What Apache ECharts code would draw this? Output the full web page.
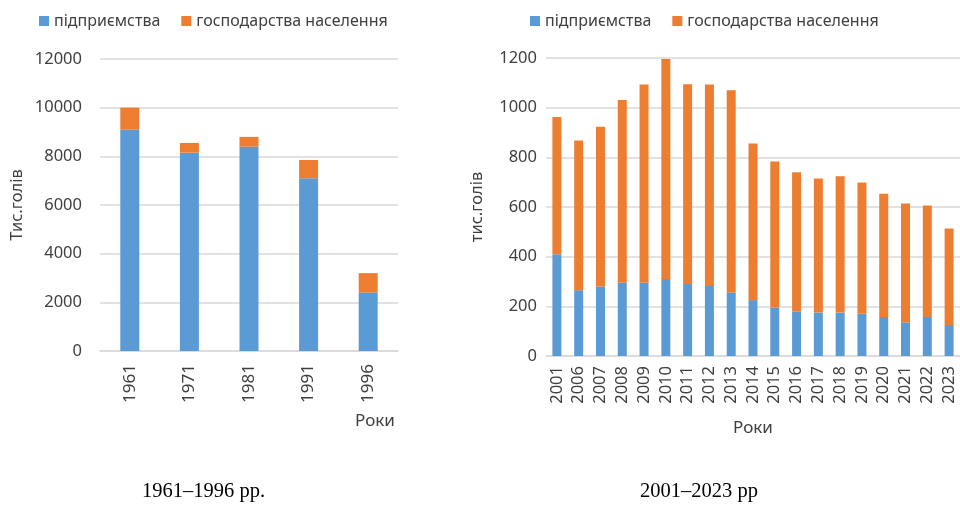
<!DOCTYPE html>
<html>
<head>
<meta charset="utf-8">
<script src="https://cdn.jsdelivr.net/npm/echarts@6/dist/echarts.min.js"></script>
<style>
html,body{margin:0;padding:0;background:#fff;}
#chart{width:960px;height:505px;}
</style>
</head>
<body>
<div id="chart"></div>
<script>
// ---- data ----
var yearsA = ['1961', '1971', '1981', '1991', '1996'];
var enterprisesA = [9100, 8150, 8400, 7100, 2400];
var householdsA = [900, 400, 400, 750, 800];

var yearsB = ['2001','2006','2007','2008','2009','2010','2011','2012','2013','2014','2015','2016','2017','2018','2019','2020','2021','2022','2023'];
var enterprisesB = [410, 265, 280, 295, 295, 310, 290, 282, 256, 225, 195, 180, 175, 175, 170, 157, 135, 157, 125];
var householdsB = [552, 603, 643, 736, 798, 886, 804, 811, 814, 631, 588, 560, 540, 549, 529, 496, 479, 449, 388];

var seriesNames = ['підприємства', 'господарства населення'];
var captions = ['1961–1996 рр.', '2001–2023 рр'];

// ---- style ----
var FONT = 'Noto Sans';
var TXT = '#404040';
var GRIDC = '#D9D9D9';
var BLUE = '#5B9BD5';
var ORANGE = '#ED7D31';

var chart = echarts.init(document.getElementById('chart'), null, {renderer: 'canvas'});

function legend(left) {
  return {
    left: left, top: 8,
    itemWidth: 10, itemHeight: 10, itemGap: 21,
    icon: 'rect',
    textStyle: {fontFamily: FONT, fontSize: 16, color: TXT},
    data: seriesNames
  };
}
function plain(v) { return String(v); }

var option = {
  animation: false,
  backgroundColor: '#fff',
  color: [BLUE, ORANGE],
  legend: [legend(34), legend(525)],
  grid: [
    {left: 100, top: 59, width: 298, height: 292},
    {left: 546, top: 58, width: 416, height: 298}
  ],
  xAxis: [
    {
      type: 'category', gridIndex: 0, data: yearsA,
      axisTick: {show: false},
      axisLine: {lineStyle: {color: GRIDC, width: 1.5}},
      axisLabel: {rotate: 90, margin: 13, fontFamily: FONT, fontSize: 17, color: TXT},
      name: 'Роки', nameLocation: 'middle', nameGap: 62,
      nameTextStyle: {fontFamily: FONT, fontSize: 17, color: TXT, padding: [0, 0, 0, 252]}
    },
    {
      type: 'category', gridIndex: 1, data: yearsB,
      axisTick: {show: false},
      axisLine: {lineStyle: {color: GRIDC, width: 1.5}},
      axisLabel: {rotate: 90, margin: 10, fontFamily: FONT, fontSize: 16.5, color: TXT, interval: 0},
      name: 'Роки', nameLocation: 'middle', nameGap: 64,
      nameTextStyle: {fontFamily: FONT, fontSize: 17, color: TXT}
    }
  ],
  yAxis: [
    {
      type: 'value', gridIndex: 0, min: 0, max: 12000, interval: 2000,
      axisLine: {show: false}, axisTick: {show: false},
      splitLine: {lineStyle: {color: GRIDC, width: 1.5}},
      axisLabel: {margin: 18, fontFamily: FONT, fontSize: 16.5, color: TXT, formatter: plain},
      name: 'Тис.голів', nameLocation: 'middle', nameRotate: 90, nameGap: 74,
      nameTextStyle: {fontFamily: FONT, fontSize: 16.5, color: TXT}
    },
    {
      type: 'value', gridIndex: 1, min: 0, max: 1200, interval: 200,
      axisLine: {show: false}, axisTick: {show: false},
      splitLine: {lineStyle: {color: GRIDC, width: 1.5}},
      axisLabel: {margin: 9, fontFamily: FONT, fontSize: 16.5, color: TXT, formatter: plain},
      name: 'тис.голів', nameLocation: 'middle', nameRotate: 90, nameGap: 60,
      nameTextStyle: {fontFamily: FONT, fontSize: 16.5, color: TXT}
    }
  ],
  series: [
    {name: seriesNames[0], type: 'bar', stack: 'a', xAxisIndex: 0, yAxisIndex: 0, barWidth: 19, data: enterprisesA, itemStyle: {color: BLUE}},
    {name: seriesNames[1], type: 'bar', stack: 'a', xAxisIndex: 0, yAxisIndex: 0, barWidth: 19, data: householdsA, itemStyle: {color: ORANGE}},
    {name: seriesNames[0], type: 'bar', stack: 'b', xAxisIndex: 1, yAxisIndex: 1, barWidth: 9, data: enterprisesB, itemStyle: {color: BLUE}},
    {name: seriesNames[1], type: 'bar', stack: 'b', xAxisIndex: 1, yAxisIndex: 1, barWidth: 9, data: householdsB, itemStyle: {color: ORANGE}}
  ],
  graphic: [
    {type: 'text', left: 142, top: 481, style: {text: captions[0], font: '20.5px "Liberation Serif"', fill: '#000'}},
    {type: 'text', left: 640, top: 481, style: {text: captions[1], font: '20.5px "Liberation Serif"', fill: '#000'}}
  ]
};
chart.setOption(option);
</script>
</body>
</html>
